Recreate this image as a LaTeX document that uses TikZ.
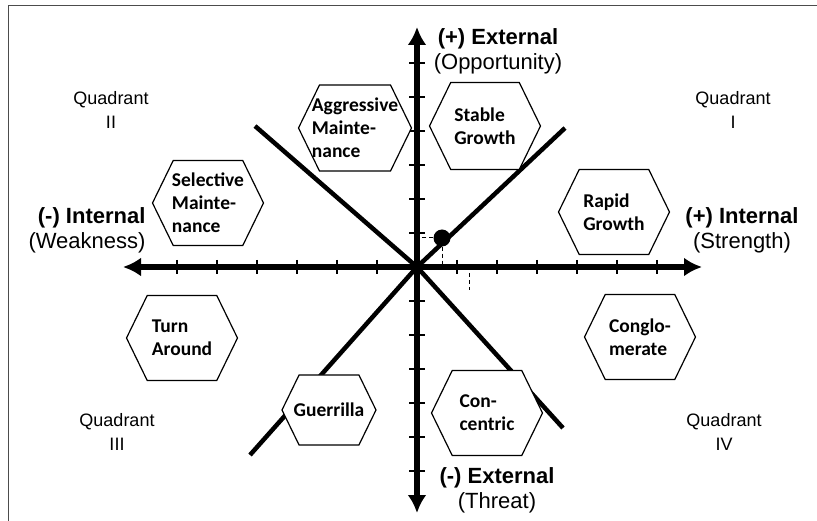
\documentclass[tikz,border=0pt]{standalone}
\usepackage{fontspec}
\setmainfont{Liberation Sans}
\newfontfamily\hexfont{Carlito}
\usetikzlibrary{shapes.symbols,arrows.meta,positioning,calc}

\tikzset{
  frame/.style={line width=1.5pt,black!70},
  axis/.style={line width=6pt,{Latex[length=18pt,width=19pt]}-{Latex[length=18pt,width=19pt]}},
  tickmark/.style={line width=2.5pt},
  diag/.style={line width=4.5pt},
  hexa/.style={signal,signal to=west and east,signal pointer angle=128,draw,line width=1.2pt,fill=white,inner sep=0pt,minimum width=111pt,minimum height=85pt},
  hextext/.style={align=left,font=\hexfont\bfseries\fontsize{19.5}{23}\selectfont},
  axlabel/.style={align=center,font=\fontsize{22}{25}\selectfont},
  quad/.style={align=center,font=\fontsize{18}{24.5}\selectfont},
  guide/.style={line width=1pt,dash pattern=on 4pt off 3pt}
}

\begin{document}
\begin{tikzpicture}[x=1pt,y=-1pt]
\useasboundingbox (0,0) rectangle (817,521);
\draw[frame] (8.5,521) -- (8.5,5.5) -- (817,5.5);

\coordinate (o) at (417,267);
% diagonals
\draw[diag] (250,455) -- (o) -- (565,128);
\draw[diag] (255,126) -- (o) -- (563,428);
% axes and ticks
\draw[axis] (123,267) -- (702,267);
\draw[axis] (417,27) -- (417,513);
\foreach \i in {1,...,6}{
  \draw[tickmark] ($(o)+(40*\i,-7)$) -- ++(0,14);
  \draw[tickmark] ($(o)+(-40*\i,-7)$) -- ++(0,14);
  \draw[tickmark] ($(o)+(-8,34*\i)$) -- ++(16,0);
  \draw[tickmark] ($(o)+(-8,-34*\i)$) -- ++(16,0);
}

% strategies
\node[hexa,minimum width=113pt,minimum height=86pt,label={[hextext]center:{Aggressive\\Mainte-\\nance}}] (aggr) at (355,128) {};
\node[hexa,minimum height=87pt,label={[hextext]center:{Stable\\Growth}}] (stable) at (485,126) {};
\node[hexa,label={[hextext]center:{Selective\\Mainte-\\nance}}] (select) at (208,203) {};
\node[hexa,label={[hextext]center:{Rapid\\Growth}}] (rapid) at (614,212) {};
\node[hexa,label={[hextext]center:{Turn\\Around}}] (turn) at (182,338) {};
\node[hexa,label={[hextext]center:{Conglo-\\merate}}] (congl) at (640,337) {};
\node[hexa,minimum width=94pt,minimum height=70pt,label={[hextext]center:{Guerrilla}}] (guer) at (329,410) {};
\node[hexa,label={[hextext]center:{Con-\\centric}}] (conc) at (487,413) {};

% position
\node[circle,fill=black,inner sep=0pt,minimum size=17pt] (pos) at (442,238) {};
\coordinate (py) at (420,238);
\coordinate (px) at (442,265);
\coordinate (q1) at (469,273);
\coordinate (q2) at (469,290);
\draw[guide] (pos.west) -- (py);
\draw[guide] (pos.south) -- (px);
\draw[guide] (q1) -- (q2);

% labels
\node[axlabel] (extp) at (498,51) {\textbf{(+) External}\\(Opportunity)};
\node[axlabel] (extm) at (497,490) {\textbf{(-) External}\\(Threat)};
\node[axlabel,align=right,anchor=east] (intm) at (149,230) {\textbf{(-) Internal}\\(Weakness)};
\node[axlabel] (intp) at (742,230) {\textbf{(+) Internal}\\(Strength)};
\node[quad] (q1lab) at (733,110) {Quadrant\\I};
\node[quad] (q2lab) at (111,110) {Quadrant\\II};
\node[quad] (q3lab) at (117,432) {Quadrant\\III};
\node[quad] (q4lab) at (724,432) {Quadrant\\IV};
\end{tikzpicture}
\end{document}
